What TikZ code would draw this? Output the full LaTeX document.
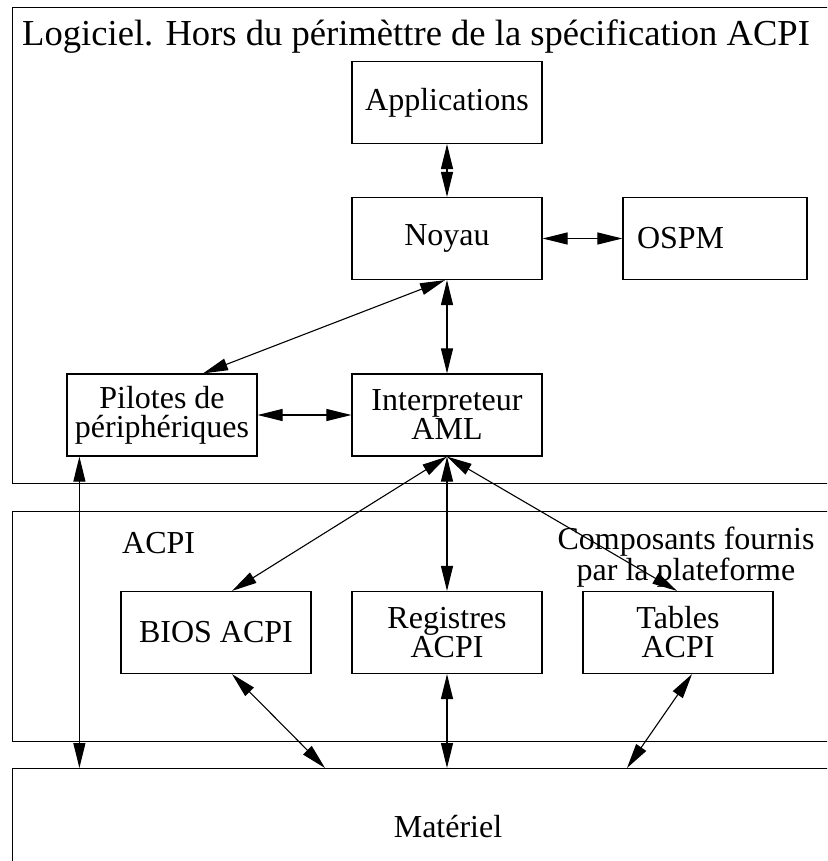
\documentclass[tikz,border=0pt]{standalone}
\usepackage{fontspec}
\setmainfont{Liberation Serif}
\usetikzlibrary{positioning, arrows.meta, calc}

\begin{document}
\begin{tikzpicture}[x=1pt, y=-1pt,
  box/.style={draw, line width=1.2pt, minimum width=190pt, minimum height=82pt, inner sep=0pt, align=center, font=\fontsize{32}{29}\selectfont},
  layer/.style={draw, line width=1.2pt, inner sep=0pt, anchor=north west, minimum width=850pt},
  lbl/.style={font=\fontsize{32}{29}\selectfont, align=center},
  dbl/.style={{Triangle[length=25pt,width=12pt]}-{Triangle[length=25pt,width=12pt]}, line width=1.1pt}]
\useasboundingbox (0,0) rectangle (827,861);
\clip (0,0) rectangle (827,861);

% Layers
\node[layer, minimum height=476pt] (logiciel) at (12,7) {};
\node[layer, minimum height=230pt] (acpi) at (12,511) {};
\node[layer, minimum height=120pt] (mat) at (12,768) {};

% Layer labels
\node[lbl, anchor=base west, inner sep=0pt, font=\fontsize{36.6}{32}\selectfont] (titre) at (22,46) {Logiciel. Hors du périmèttre de la spécification ACPI};
\node[lbl, anchor=base west, inner sep=0pt] (acpilbl) at (122,553) {ACPI};
\node[lbl] (fournis) at (686,557) {Composants fournis\\par la plateforme};
\node[lbl] (matlbl) at (448,827) {Matériel};

% Boxes
\node[box] (app) at (447,102.5) {Applications};
\node[box] (noy) at (447,238.5) {Noyau};
\node[box, minimum width=184pt, text width=156pt, inner xsep=14pt, align=left] (ospm) at (715,238.5) {OSPM};
\node[box] (pil) at (162,415) {Pilotes de\\périphériques};
\node[box] (interp) at (447,415) {Interpreteur\\AML};
\node[box] (bios) at (216,632.5) {BIOS ACPI};
\node[box] (reg) at (447,632.5) {Registres\\ACPI};
\node[box] (tab) at (678,632.5) {Tables\\ACPI};

% Arrows
\draw[dbl] (app) -- (noy);
\draw[dbl] (noy) -- (ospm);
\draw[dbl] (noy) -- (interp);
\draw[dbl] ([xshift=41pt]pil.north) -- ([xshift=-2pt]noy.south);
\draw[dbl] (pil) -- (interp);
\draw[dbl] ([xshift=13pt]pil.south west) -- ([xshift=13pt]pil.south west |- mat.north);
\foreach \n/\dx in {bios/16, reg/0, tab/-1}{
  \draw[dbl] (interp.south) -- ([xshift=\dx pt]\n.north);
}
\foreach \n/\dx/\mx in {bios/16/325, reg/0/447, tab/14/627}{
  \draw[dbl] ([xshift=\dx pt]\n.south) -- (\mx,0 |- mat.north);
}
\end{tikzpicture}
\end{document}
